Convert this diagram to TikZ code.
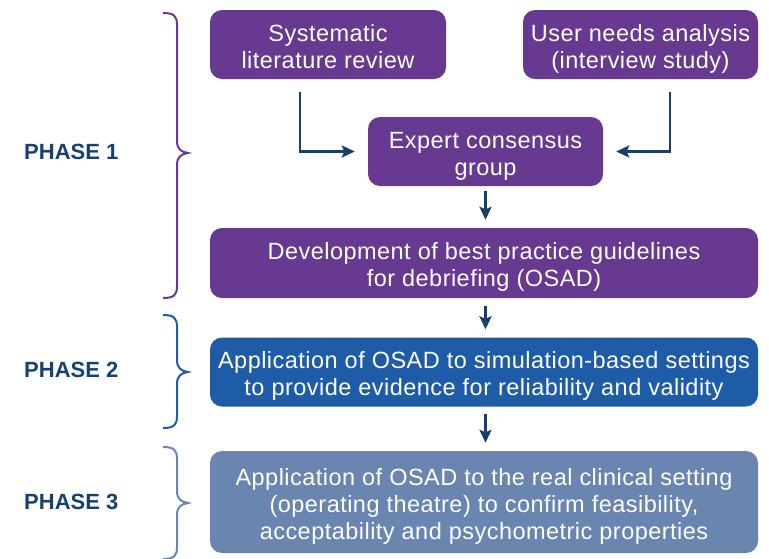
\documentclass[tikz,border=0pt]{standalone}
\usepackage{fontspec}
\setmainfont{Liberation Sans}
\usetikzlibrary{arrows.meta}
\definecolor{purp}{RGB}{104,57,145}
\definecolor{blu}{RGB}{31,92,168}
\definecolor{grb}{RGB}{106,133,176}
\definecolor{navy}{RGB}{24,62,110}
\definecolor{lbl}{RGB}{22,66,115}
\newcommand\fl{\rule{0pt}{20pt}}
\newcommand\mybrace[4]{\draw[bracestyle,#4] (163,#1) .. controls (174,#1) and (177,#1+3) .. (177,#1+12) -- (177,#2-12) .. controls (177,#2-4) and (181,#2-1) .. (188,#2) .. controls (181,#2+1) and (177,#2+4) .. (177,#2+12) -- (177,#3-12) .. controls (177,#3-3) and (174,#3) .. (163,#3);}
\begin{document}
\begin{tikzpicture}[x=1pt,y=-1pt,
 box/.style={rounded corners=12pt, text=white, align=center, font=\fontsize{23.5}{27}\selectfont\addfontfeature{LetterSpace=2}, inner sep=0pt, text depth=0pt},
 arr/.style={draw=navy, line width=2.6pt, -{Stealth[length=13pt,width=12pt,inset=2.5pt]}},
 bracestyle/.style={line width=2pt},
 phase/.style={text=lbl, font=\fontsize{22}{26}\selectfont\bfseries, anchor=west, inner sep=0pt}]
\useasboundingbox (0,0) rectangle (769,558);
\node[box, fill=purp, minimum width=236pt, minimum height=69pt] (slr) at (328,44.5) {\fl Systematic\\literature review};
\node[box, fill=purp, minimum width=235pt, minimum height=69pt] (una) at (640.5,44.5) {\fl User needs analysis\\(interview study)};
\node[box, fill=purp, minimum width=235pt, minimum height=69pt] (exp) at (485.5,151.5) {\fl Expert consensus\\group};
\node[box, fill=purp, minimum width=548pt, minimum height=70pt] (dev) at (484,263) {\fl Development of best practice guidelines\\for debriefing (OSAD)};
\node[box, fill=blu, minimum width=548pt, minimum height=69pt] (sim) at (484,372) {\fl Application of OSAD to simulation-based settings\\to provide evidence for reliability and validity};
\node[box, fill=grb, minimum width=548pt, minimum height=102pt] (clin) at (484,502) {\fl Application of OSAD to the real clinical setting\\(operating theatre) to confirm feasibility,\\acceptability and psychometric properties};
\node[phase] (p1) at (24,152) {PHASE 1};
\node[phase] (p2) at (24,370) {PHASE 2};
\node[phase] (p3) at (24,502) {PHASE 3};
\coordinate (s1) at (300,92);
\coordinate (u1) at (670,92);
\draw[arr, shorten >=13pt] (s1) |- (exp.west);
\draw[arr, shorten >=13pt] (u1) |- (exp.east);
\draw[arr, shorten <=5pt, shorten >=8pt] (exp.south) -- (exp.south |- dev.north);
\draw[arr, shorten <=8pt, shorten >=8pt] (exp.south |- dev.south) -- (exp.south |- sim.north);
\draw[arr, shorten <=7pt, shorten >=8pt] (exp.south |- sim.south) -- (exp.south |- clin.north);
\mybrace{13}{153}{298}{purp}
\mybrace{315}{372}{428}{blu}
\mybrace{447}{503}{559}{grb}
\end{tikzpicture}
\end{document}
